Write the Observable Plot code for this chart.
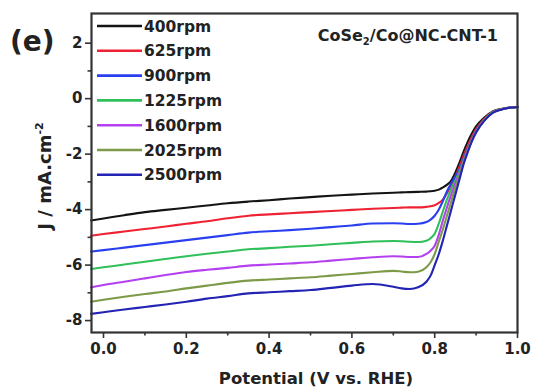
<!DOCTYPE html>
<html>
<head>
<meta charset="utf-8">
<script src="https://cdn.jsdelivr.net/npm/d3@7"></script>
<script src="https://cdn.jsdelivr.net/npm/@observablehq/plot@0.6"></script>
<style>
  html, body { margin: 0; padding: 0; background: #fff; }
  #chart { position: relative; width: 534px; height: 391px; }
</style>
</head>
<body>
<div id="chart"></div>
<script>
const potential = [-0.03, 0, 0.05, 0.1, 0.15, 0.2, 0.25, 0.3, 0.35, 0.4, 0.45, 0.5, 0.55, 0.6, 0.65, 0.7, 0.72, 0.74, 0.76, 0.78, 0.79, 0.8, 0.81, 0.82, 0.83, 0.84, 0.85, 0.86, 0.87, 0.88, 0.89, 0.9, 0.92, 0.94, 0.96, 0.98, 1.0];

const j400  = [-4.39, -4.32, -4.20, -4.09, -4.01, -3.93, -3.85, -3.77, -3.71, -3.66, -3.60, -3.55, -3.50, -3.46, -3.42, -3.39, -3.38, -3.37, -3.36, -3.35, -3.34, -3.32, -3.28, -3.20, -3.10, -2.95, -2.66, -2.30, -1.90, -1.55, -1.25, -1.00, -0.68, -0.46, -0.37, -0.32, -0.30];
const j625  = [-4.94, -4.88, -4.79, -4.70, -4.61, -4.51, -4.42, -4.31, -4.22, -4.17, -4.13, -4.09, -4.05, -4.01, -3.97, -3.94, -3.93, -3.92, -3.92, -3.90, -3.88, -3.84, -3.76, -3.63, -3.40, -3.12, -2.80, -2.45, -2.05, -1.70, -1.37, -1.10, -0.72, -0.48, -0.38, -0.33, -0.30];
const j900  = [-5.51, -5.46, -5.37, -5.28, -5.19, -5.10, -5.01, -4.92, -4.83, -4.78, -4.74, -4.69, -4.63, -4.57, -4.50, -4.49, -4.50, -4.52, -4.51, -4.45, -4.36, -4.22, -4.00, -3.68, -3.33, -3.05, -2.80, -2.55, -2.15, -1.80, -1.45, -1.16, -0.76, -0.49, -0.39, -0.33, -0.30];
const j1225 = [-6.14, -6.08, -5.98, -5.88, -5.78, -5.68, -5.59, -5.51, -5.43, -5.39, -5.34, -5.30, -5.25, -5.20, -5.15, -5.13, -5.14, -5.16, -5.17, -5.12, -5.03, -4.87, -4.50, -4.05, -3.62, -3.25, -2.95, -2.62, -2.22, -1.84, -1.48, -1.18, -0.77, -0.49, -0.39, -0.33, -0.30];
const j1600 = [-6.80, -6.72, -6.60, -6.48, -6.36, -6.25, -6.17, -6.10, -6.02, -5.98, -5.94, -5.90, -5.84, -5.78, -5.72, -5.68, -5.69, -5.71, -5.71, -5.60, -5.48, -5.30, -4.90, -4.38, -3.90, -3.45, -3.05, -2.68, -2.24, -1.86, -1.49, -1.19, -0.78, -0.50, -0.39, -0.33, -0.30];
const j2025 = [-7.32, -7.25, -7.14, -7.04, -6.95, -6.84, -6.74, -6.64, -6.56, -6.52, -6.48, -6.44, -6.38, -6.32, -6.26, -6.21, -6.23, -6.26, -6.24, -6.08, -5.90, -5.60, -5.15, -4.70, -4.20, -3.70, -3.20, -2.75, -2.27, -1.88, -1.50, -1.20, -0.78, -0.50, -0.39, -0.33, -0.30];
const j2500 = [-7.76, -7.70, -7.60, -7.51, -7.42, -7.32, -7.21, -7.12, -7.02, -6.98, -6.94, -6.90, -6.82, -6.74, -6.68, -6.78, -6.84, -6.86, -6.80, -6.60, -6.38, -6.00, -5.60, -5.10, -4.55, -4.00, -3.45, -2.90, -2.35, -1.92, -1.53, -1.22, -0.79, -0.51, -0.40, -0.33, -0.30];

const rpmLabels = ["400rpm", "625rpm", "900rpm", "1225rpm", "1600rpm", "2025rpm", "2500rpm"];
const seriesColors = ["#141414", "#ee2233", "#2a3ff0", "#2fc05a", "#b540f0", "#7c9a48", "#2323b4"];
const seriesValues = [j400, j625, j900, j1225, j1600, j2025, j2500];

const xMajor = [0, 0.2, 0.4, 0.6, 0.8, 1.0];
const xMinor = [0.1, 0.3, 0.5, 0.7, 0.9];
const yMajor = [-8, -6, -4, -2, 0, 2];
const yMinor = [-7, -5, -3, -1, 1];

const titleMain = "CoSe";
const titleSub = "2";
const titleRest = "/Co@NC-CNT-1";
const panelLabel = "(e)";
const xLabel = "Potential (V vs. RHE)";
const yLabelMain = "J / mA.cm";
const yLabelSup = "-2";

const data = seriesValues.flatMap((vals, i) =>
  vals.map((v, k) => ({ x: potential[k], y: v, s: rpmLabels[i] }))
);

const axisColor = "#333";
const font = "DejaVu Sans";

const chart = Plot.plot({
  width: 534,
  height: 391,
  marginLeft: 91,
  marginRight: 17,
  marginTop: 13,
  marginBottom: 59,
  style: { fontFamily: font, fontWeight: "bold", background: "#fff", color: "#222" },
  x: { domain: [-0.029, 1.0] },
  y: { domain: [-8.43, 3.07] },
  color: { domain: rpmLabels, range: seriesColors },
  marks: [
    Plot.line(data, { x: "x", y: "y", z: "s", stroke: "s", strokeWidth: 2.1, curve: "monotone-x" }),
    Plot.axisX({ ticks: xMajor, tickSize: 6, tickPadding: 5, tickFormat: d => d.toFixed(1), fontSize: 15, label: null, stroke: axisColor, strokeWidth: 1.6, fill: "#222" }),
    Plot.axisX({ ticks: xMinor, tickSize: 3.5, tickFormat: () => "", label: null, stroke: axisColor, strokeWidth: 1.6 }),
    Plot.axisY({ ticks: yMajor, tickSize: 6, tickPadding: 3, tickFormat: d => String(d), fontSize: 15, label: null, stroke: axisColor, strokeWidth: 1.6, fill: "#222" }),
    Plot.axisY({ ticks: yMinor, tickSize: 3.5, tickFormat: () => "", label: null, stroke: axisColor, strokeWidth: 1.6 }),
    Plot.frame({ stroke: axisColor, strokeWidth: 2.2 })
  ]
});

document.getElementById("chart").appendChild(chart);

// Annotations: legend, title, axis labels
const svg = d3.select(chart);
const g = svg.append("g")
  .attr("font-family", font).attr("font-weight", "bold").attr("fill", "#222")
  .attr("text-anchor", "start");

const legend = g.append("g");
rpmLabels.forEach((lab, i) => {
  const cy = 26 + i * 24.8;
  legend.append("line").attr("x1", 97).attr("x2", 142).attr("y1", cy).attr("y2", cy)
    .attr("stroke", seriesColors[i]).attr("stroke-width", 2.6);
  legend.append("text").attr("x", 144).attr("y", cy).attr("dy", "0.36em")
    .attr("text-anchor", "start").attr("font-size", 15.5).text(lab);
});

const title = g.append("text").attr("x", 498).attr("y", 41).attr("text-anchor", "end").attr("font-size", 16);
title.append("tspan").text(titleMain);
title.append("tspan").attr("font-size", 10).attr("dy", 4).text(titleSub);
title.append("tspan").attr("dy", -4).text(titleRest);

g.append("text").attr("x", 10).attr("y", 51).attr("text-anchor", "start").attr("font-size", 28).text(panelLabel);

g.append("text").attr("x", 316).attr("y", 384).attr("text-anchor", "middle").attr("font-size", 16.5).text(xLabel);

const yl = g.append("text").attr("transform", "translate(51,176) rotate(-90)").attr("text-anchor", "middle").attr("font-size", 18);
yl.append("tspan").text(yLabelMain);
yl.append("tspan").attr("font-size", 11).attr("dy", -8).text(yLabelSup);
</script>
</body>
</html>
